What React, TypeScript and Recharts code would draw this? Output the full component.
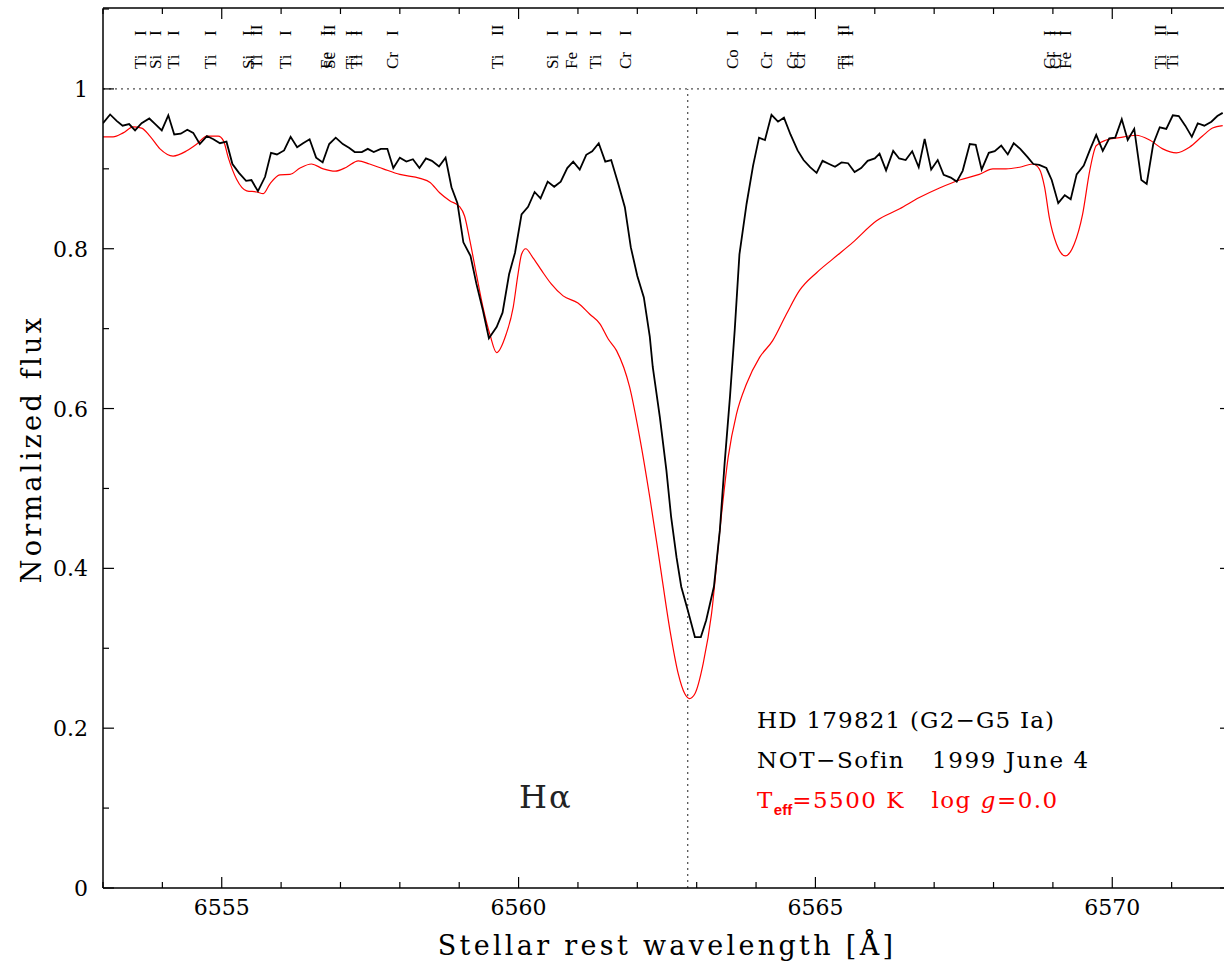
import { Line, LineChart, ReferenceLine, XAxis, YAxis } from "recharts";

// observed spectrum (HD 179821, NOT-Sofin)
const obsWave = [
  6553.0, 6553.12, 6553.23, 6553.33, 6553.44, 6553.54, 6553.65, 6553.78, 6553.88, 6553.99,
  6554.1, 6554.2, 6554.31, 6554.42, 6554.52, 6554.63, 6554.75, 6554.86, 6554.97, 6555.08,
  6555.18, 6555.29, 6555.41, 6555.5, 6555.61, 6555.73, 6555.83, 6555.93, 6556.05, 6556.16,
  6556.27, 6556.37, 6556.48, 6556.59, 6556.7, 6556.81, 6556.92, 6557.04, 6557.15, 6557.24,
  6557.36, 6557.46, 6557.56, 6557.68, 6557.79, 6557.89, 6558.0, 6558.11, 6558.22, 6558.33,
  6558.44, 6558.54, 6558.66, 6558.77, 6558.87, 6558.97, 6559.07, 6559.19, 6559.29, 6559.4,
  6559.5, 6559.63, 6559.73, 6559.84, 6559.94, 6560.05, 6560.16, 6560.27, 6560.37, 6560.49,
  6560.6, 6560.71, 6560.82, 6560.92, 6561.03, 6561.14, 6561.24, 6561.35, 6561.46, 6561.56,
  6561.68, 6561.79, 6561.89, 6562.0, 6562.11, 6562.21, 6562.26, 6562.38, 6562.49, 6562.57,
  6562.66, 6562.74, 6562.85, 6562.97, 6563.07, 6563.16, 6563.29, 6563.39, 6563.47, 6563.56,
  6563.64, 6563.72, 6563.84, 6563.95, 6564.05, 6564.15, 6564.26, 6564.37, 6564.47, 6564.58,
  6564.7, 6564.8, 6564.91, 6565.02, 6565.12, 6565.23, 6565.33, 6565.44, 6565.55, 6565.66,
  6565.77, 6565.88, 6566.0, 6566.08, 6566.19, 6566.31, 6566.41, 6566.52, 6566.63, 6566.74,
  6566.84, 6566.95, 6567.06, 6567.16, 6567.28, 6567.38, 6567.48, 6567.6, 6567.7, 6567.8,
  6567.92, 6568.02, 6568.13, 6568.24, 6568.34, 6568.45, 6568.57, 6568.67, 6568.77, 6568.89,
  6568.98, 6569.09, 6569.2, 6569.3, 6569.4, 6569.52, 6569.63, 6569.73, 6569.84, 6569.95,
  6570.05, 6570.16, 6570.26, 6570.37, 6570.49, 6570.58, 6570.69, 6570.8, 6570.91, 6571.02,
  6571.12, 6571.23, 6571.34, 6571.44, 6571.55, 6571.67, 6571.77, 6571.86,
];
const obsFlux = [
  0.957, 0.968, 0.96, 0.954, 0.956, 0.948, 0.957, 0.963, 0.956, 0.948,
  0.967, 0.943, 0.944, 0.949, 0.945, 0.931, 0.941, 0.937, 0.932, 0.934,
  0.906, 0.895, 0.885, 0.886, 0.872, 0.89, 0.92, 0.918, 0.923, 0.94,
  0.927, 0.932, 0.937, 0.914, 0.908, 0.931, 0.939, 0.931, 0.926, 0.921,
  0.921, 0.925, 0.921, 0.925, 0.925, 0.901, 0.914, 0.909, 0.912, 0.901,
  0.913, 0.91, 0.903, 0.914, 0.877, 0.857, 0.808, 0.791, 0.756, 0.7225,
  0.688, 0.702, 0.72, 0.768, 0.795, 0.843, 0.8525, 0.871, 0.863, 0.884,
  0.8775, 0.884, 0.901, 0.909, 0.899, 0.9175, 0.922, 0.932, 0.909, 0.911,
  0.881, 0.852, 0.802, 0.766, 0.739, 0.69, 0.652, 0.589, 0.5225, 0.464,
  0.414, 0.377, 0.3475, 0.314, 0.314, 0.335, 0.377, 0.4475, 0.531, 0.614,
  0.6975, 0.793, 0.856, 0.904, 0.939, 0.936, 0.9675, 0.959, 0.964, 0.943,
  0.923, 0.911, 0.902, 0.895, 0.91, 0.906, 0.9025, 0.908, 0.907, 0.896,
  0.901, 0.91, 0.913, 0.919, 0.898, 0.9225, 0.913, 0.911, 0.922, 0.902,
  0.9375, 0.899, 0.911, 0.8925, 0.889, 0.884, 0.8975, 0.931, 0.93, 0.899,
  0.92, 0.922, 0.929, 0.918, 0.932, 0.925, 0.915, 0.906, 0.905, 0.901,
  0.886, 0.857, 0.867, 0.862, 0.893, 0.904, 0.925, 0.9425, 0.9225, 0.938,
  0.939, 0.962, 0.936, 0.95, 0.886, 0.881, 0.931, 0.952, 0.95, 0.967,
  0.966, 0.954, 0.94, 0.957, 0.954, 0.959, 0.966, 0.97,
];

// synthetic spectrum, Teff=5500 K, log g=0.0
const synWave = [
  6553.0, 6553.17, 6553.34, 6553.51, 6553.65, 6553.79, 6553.96, 6554.18, 6554.41, 6554.58,
  6554.75, 6554.94, 6555.03, 6555.11, 6555.25, 6555.42, 6555.59, 6555.7, 6555.81, 6555.98,
  6556.15, 6556.32, 6556.51, 6556.71, 6556.91, 6557.1, 6557.3, 6557.49, 6557.72, 6558.0,
  6558.34, 6558.51, 6558.67, 6558.84, 6559.01, 6559.09, 6559.18, 6559.29, 6559.4, 6559.52,
  6559.63, 6559.79, 6559.91, 6559.99, 6560.05, 6560.12, 6560.24, 6560.39, 6560.55, 6560.75,
  6561.0, 6561.2, 6561.37, 6561.51, 6561.65, 6561.87, 6562.04, 6562.21, 6562.38, 6562.55,
  6562.69, 6562.8, 6562.88, 6562.97, 6563.11, 6563.25, 6563.39, 6563.53, 6563.67, 6563.84,
  6564.06, 6564.28, 6564.51, 6564.73, 6565.02, 6565.29, 6565.63, 6566.03, 6566.42, 6566.75,
  6567.09, 6567.43, 6567.76, 6567.99, 6568.21, 6568.44, 6568.66, 6568.77, 6568.86, 6568.94,
  6569.06, 6569.21, 6569.36, 6569.5, 6569.62, 6569.73, 6569.9, 6570.12, 6570.4, 6570.63,
  6570.85, 6571.08, 6571.3, 6571.52, 6571.69, 6571.86,
];
const synFlux = [
  0.94, 0.94, 0.945, 0.9525, 0.951, 0.941, 0.925, 0.916, 0.9225, 0.931,
  0.941, 0.941, 0.935, 0.914, 0.887, 0.8725, 0.871, 0.869, 0.881, 0.8925,
  0.893, 0.901, 0.906, 0.9, 0.897, 0.902, 0.91, 0.906, 0.9, 0.893,
  0.888, 0.883, 0.87, 0.86, 0.8525, 0.841, 0.81, 0.768, 0.727, 0.692,
  0.67, 0.693, 0.727, 0.768, 0.793, 0.8, 0.789, 0.7725, 0.756, 0.741,
  0.732, 0.718, 0.706, 0.687, 0.6725, 0.627, 0.564, 0.489, 0.406, 0.3225,
  0.268, 0.243, 0.237, 0.243, 0.281, 0.343, 0.4475, 0.539, 0.593, 0.631,
  0.664, 0.685, 0.718, 0.7475, 0.77, 0.787, 0.808, 0.835, 0.85, 0.864,
  0.876, 0.886, 0.893, 0.9, 0.9, 0.902, 0.906, 0.9, 0.877, 0.839,
  0.806, 0.791, 0.806, 0.843, 0.8975, 0.929, 0.936, 0.939, 0.942, 0.936,
  0.925, 0.92, 0.927, 0.941, 0.951, 0.954,
];

// line identifications along the top
const ionWave = [
  6553.62, 6553.88, 6554.18, 6554.8, 6555.44, 6555.58, 6556.06, 6556.75, 6556.8, 6557.18,
  6557.26, 6557.87, 6559.63, 6560.56, 6560.88, 6561.28, 6561.8, 6563.59, 6564.16, 6564.6,
  6564.73, 6565.47, 6565.53, 6568.93, 6569.03, 6569.2, 6570.81, 6571.01,
];
const ionElem = [
  "Ti", "Si", "Ti", "Ti", "Si", "Ti", "Ti", "Fe", "Sc", "Ti",
  "Ti", "Cr", "Ti", "Si", "Fe", "Ti", "Cr", "Co", "Cr", "Cr",
  "Cr", "Ti", "Ti", "Cr", "Cr", "Fe", "Ti", "Ti",
];
const ionStage = [
  "I", "I", "I", "I", "I", "II", "I", "I", "II", "I",
  "I", "I", "II", "I", "I", "I", "I", "I", "I", "I",
  "I", "II", "I", "I", "I", "I", "II", "I",
];

const xTicks = [6553, 6554, 6555, 6556, 6557, 6558, 6559, 6560, 6561, 6562, 6563, 6564, 6565, 6566, 6567, 6568, 6569, 6570, 6571, 6572];
const yTicks = [0, 0.1, 0.2, 0.3, 0.4, 0.5, 0.6, 0.7, 0.8, 0.9, 1.0, 1.1];
const H_ALPHA = 6562.85;

const obsData = obsWave.map((w, i) => ({ w, f: obsFlux[i] }));
const synData = synWave.map((w, i) => ({ w, f: synFlux[i] }));

const serif = "'DejaVu Serif', serif";

const isMajorX = (v: number) => v % 5 === 0;
const isMajorY = (v: number) => Math.round(v * 10) % 2 === 0 && v <= 1.0001;
const yLabel = (v: number) => (v === 0 ? "0" : Math.abs(v - 1) < 1e-6 ? "1" : v.toFixed(1));

function BottomTick(props: any) {
  const { x, y, payload } = props;
  const major = isMajorX(payload.value);
  return (
    <g>
      <line x1={x} x2={x} y1={y} y2={y - (major ? 11 : 6)} stroke="#000" strokeWidth={1.2} />
      {major && (
        <text x={x} y={y + 27} textAnchor="middle" fontFamily={serif} fontSize={22} fill="#000">
          {payload.value}
        </text>
      )}
    </g>
  );
}

function TopTick(props: any) {
  const { x, y, payload } = props;
  const major = isMajorX(payload.value);
  return <line x1={x} x2={x} y1={y} y2={y + (major ? 11 : 6)} stroke="#000" strokeWidth={1.2} />;
}

function LeftTick(props: any) {
  const { x, y, payload } = props;
  const major = isMajorY(payload.value);
  return (
    <g>
      <line x1={x} x2={x + (major ? 11 : 6)} y1={y} y2={y} stroke="#000" strokeWidth={1.2} />
      {major && (
        <text x={x - 15} y={y + 8} textAnchor="end" fontFamily={serif} fontSize={22} fill="#000">
          {yLabel(payload.value)}
        </text>
      )}
    </g>
  );
}

function RightTick(props: any) {
  const { x, y, payload } = props;
  const major = isMajorY(payload.value);
  return <line x1={x} x2={x - (major ? 11 : 6)} y1={y} y2={y} stroke="#000" strokeWidth={1.2} />;
}

// ion labels are written upwards, element first, stage in its own column
function IonTick(props: any) {
  const { x, payload } = props;
  const i = ionWave.indexOf(payload.value);
  if (i < 0) return null;
  const bx = x + 6;
  return (
    <g fontFamily="'Liberation Serif', serif" fontSize={17} fill="#000">
      <text x={bx} y={69} transform={`rotate(-90, ${bx}, 69)`}>
        {ionElem[i]}
      </text>
      <text x={bx} y={36} transform={`rotate(-90, ${bx}, 36)`}>
        {ionStage[i]}
      </text>
    </g>
  );
}

const frame = { stroke: "#000", strokeWidth: 1.5 };

export default function App() {
  return (
    <div style={{ position: "absolute", left: 0, top: 0, width: 1224, height: 965, overflow: "hidden", background: "#fff" }}>
      <LineChart width={1240} height={965} margin={{ top: 7, right: 8, bottom: 76, left: 102 }}>
        <XAxis
          xAxisId="b"
          dataKey="w"
          type="number"
          domain={[6553, 6572]}
          allowDataOverflow
          ticks={xTicks}
          interval={0}
          height={1}
          tickSize={0}
          tickMargin={0}
          tick={<BottomTick />}
          tickLine={false}
          axisLine={frame}
        />
        <XAxis
          xAxisId="t"
          orientation="top"
          dataKey="w"
          type="number"
          domain={[6553, 6572]}
          allowDataOverflow
          ticks={xTicks}
          interval={0}
          height={1}
          tickSize={0}
          tickMargin={0}
          tick={<TopTick />}
          tickLine={false}
          axisLine={frame}
        />
        <XAxis
          xAxisId="ions"
          orientation="top"
          dataKey="w"
          type="number"
          domain={[6553, 6572]}
          allowDataOverflow
          ticks={ionWave}
          interval={0}
          height={1}
          tickSize={0}
          tickMargin={0}
          tick={<IonTick />}
          tickLine={false}
          axisLine={false}
        />
        <YAxis
          yAxisId="l"
          type="number"
          domain={[0, 1.1]}
          allowDataOverflow
          ticks={yTicks}
          interval={0}
          width={1}
          tickSize={0}
          tickMargin={0}
          tick={<LeftTick />}
          tickLine={false}
          axisLine={frame}
        />
        <YAxis
          yAxisId="r"
          orientation="right"
          type="number"
          domain={[0, 1.1]}
          allowDataOverflow
          ticks={yTicks}
          interval={0}
          width={1}
          tickSize={0}
          tickMargin={0}
          tick={<RightTick />}
          tickLine={false}
          axisLine={frame}
        />
        <ReferenceLine xAxisId="b" yAxisId="l" y={1} stroke="#222" strokeWidth={1} strokeDasharray="2 4" />
        <ReferenceLine
          xAxisId="b"
          yAxisId="l"
          segment={[
            { x: H_ALPHA, y: 0 },
            { x: H_ALPHA, y: 1 },
          ]}
          stroke="#222"
          strokeWidth={1}
          strokeDasharray="2 4"
        />
        <Line
          xAxisId="b"
          yAxisId="l"
          data={synData}
          dataKey="f"
          type="monotone"
          stroke="#ff0000"
          strokeWidth={1.2}
          dot={false}
          isAnimationActive={false}
        />
        <Line
          xAxisId="b"
          yAxisId="l"
          data={obsData}
          dataKey="f"
          type="linear"
          stroke="#000"
          strokeWidth={1.8}
          dot={false}
          isAnimationActive={false}
        />
      </LineChart>
      <svg width={1224} height={965} style={{ position: "absolute", left: 0, top: 0, pointerEvents: "none" }}>
        <text
          x={41}
          y={449}
          transform="rotate(-90, 41, 449)"
          textAnchor="middle"
          fontFamily={serif}
          fontSize={27}
          letterSpacing={3.3}
          fill="#000"
        >
          Normalized flux
        </text>
        <text x={667} y={955} textAnchor="middle" fontFamily={serif} fontSize={27} letterSpacing={3.3} fill="#000">
          Stellar rest wavelength [Å]
        </text>
        <text x={519} y={808} fontFamily={serif} fontSize={32} letterSpacing={2} fill="#222">
          Hα
        </text>
        <g fontFamily={serif} fontSize={23}>
          <text x={757} y={728} fill="#000" letterSpacing={1.2}>
            HD 179821 (G2−G5 Ia)
          </text>
          <text x={757} y={768} fill="#000" letterSpacing={1.6}>
            {"NOT−Sofin\u00a0\u00a0\u00a01999 June 4"}
          </text>
          <text x={757} y={808} fill="#ff0000" letterSpacing={1.5}>
            T
            <tspan dy={7} fontFamily="'Liberation Sans', sans-serif" fontWeight="bold" fontSize={15} letterSpacing={0}>
              eff
            </tspan>
            <tspan dy={-7}>{"=5500 K\u00a0\u00a0\u00a0log "}</tspan>
            <tspan fontStyle="italic">g</tspan>
            <tspan>=0.0</tspan>
          </text>
        </g>
      </svg>
    </div>
  );
}
